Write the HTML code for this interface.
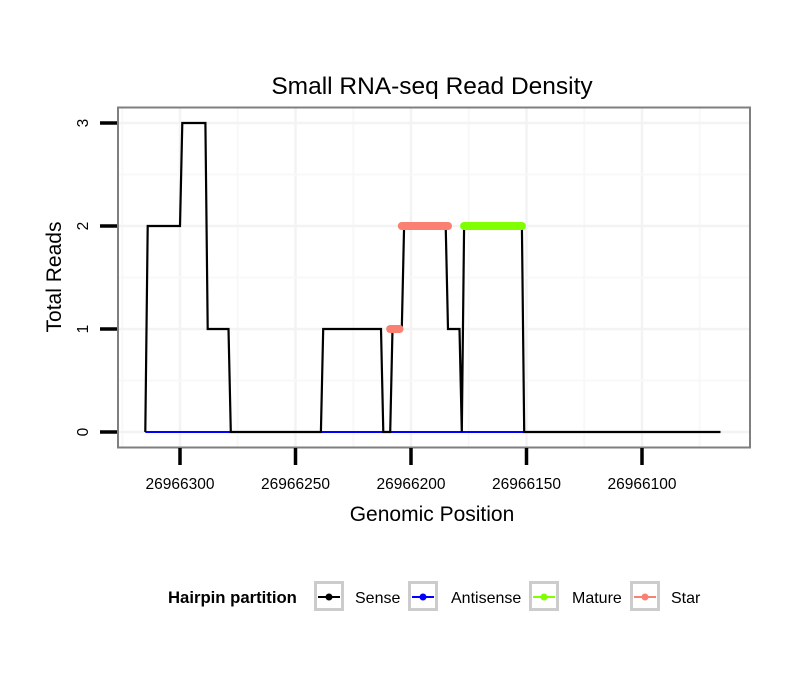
<!DOCTYPE html>
<html><head><meta charset="utf-8"><style>
body{margin:0;background:#fff;}
svg{display:block;font-family:"Liberation Sans",sans-serif;}
</style></head><body>
<svg id="c" width="810" height="690" xmlns="http://www.w3.org/2000/svg">
<rect width="810" height="690" fill="#fff"/>
<text x="432" y="94" font-size="24.5" text-anchor="middle">Small RNA-seq Read Density</text>
<g id="grid"></g>
<g id="serieslayer"></g>
<rect x="118" y="107.5" width="632" height="340" fill="none" stroke="#7f7f7f" stroke-width="2"/>
<g id="axes"></g>
<text x="432" y="521" font-size="21" text-anchor="middle">Genomic Position</text>
<text transform="translate(61,277) rotate(-90)" font-size="21" text-anchor="middle">Total Reads</text>
<g id="legend">
<text x="168" y="603" font-size="16.7" font-weight="bold">Hairpin partition</text>
</g>
</svg>
<script>
// data
const sensePos = [315,314,300,299,289,288,279,278,239,238,213,212,209,208,204,203,185,184,179,178,177,152,151,66];
const senseVal = [0,2,2,3,3,1,1,0,0,1,1,0,0,1,1,2,2,1,1,0,2,2,0,0];
const antisensePos = [315,151];
const antisenseVal = [0,0];
const maturePos = [177,152];
const matureVal = [2,2];
const starPos1 = [209,205];
const starVal1 = [1,1];
const starPos2 = [204,184];
const starVal2 = [2,2];
const xTicks = [26966300,26966250,26966200,26966150,26966100];
const yTicks = [0,1,2,3];
const legendLabels = ["Sense","Antisense","Mature","Star"];
const legendColors = ["#000000","#0000ff","#7fff00","#fa8072"];

const NS="http://www.w3.org/2000/svg";
const BASE=26966000;
function X(p){ var q = p > 100000 ? p - BASE : p; return 180 + (300 - q) * 2.31; }
function Y(v){ return 432 - v * 103; }
function mk(tag, attrs, parent){var e=document.createElementNS(NS,tag);for(var k in attrs)e.setAttribute(k,String(attrs[k]));parent.appendChild(e);return e;}
var grid=document.getElementById('grid'), serLayer=document.getElementById('serieslayer'), axes=document.getElementById('axes'), leg=document.getElementById('legend');

// grid
for(var i=0;i<xTicks.length;i++){
  var gx=X(xTicks[i]);
  var l=mk('line',{x1:gx,x2:gx,y1:108,y2:447,stroke:'#f3f3f3','stroke-width':2.5},grid);
  
  
  var mx=X(xTicks[i]-25);
  if(mx<750){var m=mk('line',{x1:mx,x2:mx,y1:108,y2:447,stroke:'#f8f8f8','stroke-width':2},grid);
  
  }
}
var m0=mk('line',{x1:X(325),x2:X(325),y1:108,y2:447,stroke:'#f8f8f8','stroke-width':2},grid);


for(var i=0;i<yTicks.length;i++){
  var gy=Y(yTicks[i]);
  var l=mk('line',{x1:119,x2:749,y1:gy,y2:gy,stroke:'#f3f3f3','stroke-width':2.5},grid);
  
  
  if(i<yTicks.length-1){var my=Y(yTicks[i]+0.5);var m=mk('line',{x1:119,x2:749,y1:my,y2:my,stroke:'#f8f8f8','stroke-width':2},grid);
  
  }
}

function drawSeries(pos,val,color,w,cap,name){
  var pts=[];
  for(var i=0;i<pos.length;i++){pts.push(X(pos[i]).toFixed(1)+','+Y(val[i]).toFixed(1));}
  var e=mk('polyline',{points:pts.join(' '),fill:'none',stroke:color,'stroke-width':w,'stroke-linecap':cap},serLayer);
  
  
}
drawSeries(antisensePos,antisenseVal,'#0000ff',2,'butt','antisense-line');
drawSeries(sensePos,senseVal,'#000000',2.2,'butt','sense-line');
drawSeries(maturePos,matureVal,'#7fff00',8,'round','mature-line');
drawSeries(starPos1,starVal1,'#fa8072',8,'round','star-line-low');
drawSeries(starPos2,starVal2,'#fa8072',8,'round','star-line-high');

// axes
for(var i=0;i<xTicks.length;i++){
  var tx=X(xTicks[i]);
  var t=mk('line',{x1:tx,x2:tx,y1:448,y2:465,stroke:'#000','stroke-width':3.5},axes);
  
  
  var lb=mk('text',{x:tx,y:489,'font-size':15.5,'text-anchor':'middle'},axes);
  lb.textContent=xTicks[i];
  
  
}
for(var i=0;i<yTicks.length;i++){
  var ty=Y(yTicks[i]);
  var t=mk('line',{x1:100,x2:117,y1:ty,y2:ty,stroke:'#000','stroke-width':3.5},axes);
  
  
  var lb=mk('text',{transform:'translate(88,'+ty+') rotate(-90)','font-size':15.5,'text-anchor':'middle'},axes);
  lb.textContent=yTicks[i];
  
  
}

// legend
var keyX=[314,408,529,630], txtX=[355,451,572,671];
for(var i=0;i<legendLabels.length;i++){
  var g=mk('g',{},leg);
  
  
  mk('rect',{x:keyX[i]+1.5,y:582.5,width:27,height:27,fill:'#fff',stroke:'#cccccc','stroke-width':3},g);
  mk('line',{x1:keyX[i]+4,x2:keyX[i]+26,y1:597,y2:597,stroke:legendColors[i],'stroke-width':2},g);
  mk('circle',{cx:keyX[i]+15,cy:597,r:3.5,fill:legendColors[i]},g);
  var tt=mk('text',{x:txtX[i],y:603,'font-size':16},g);
  tt.textContent=legendLabels[i];
}
</script>
</body></html>
